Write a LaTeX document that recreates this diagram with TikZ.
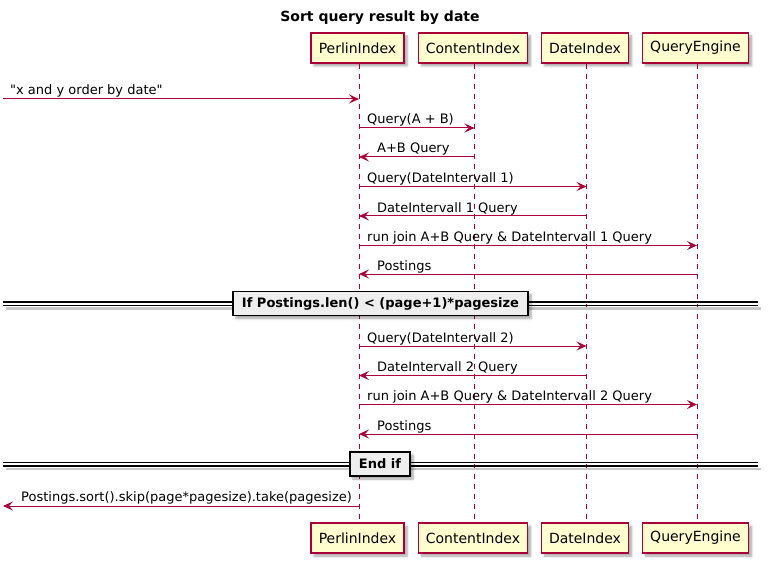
\documentclass[tikz,border=0pt]{standalone}
\usepackage{fontspec}
\setmainfont{DejaVu Sans}[Ligatures=TeXOff]
\usetikzlibrary{arrows.meta,shadows.blur}
\definecolor{puRed}{HTML}{A80036}
\definecolor{puFill}{HTML}{FEFECE}
\definecolor{puDiv}{HTML}{EEEEEE}
\tikzset{
  part/.style={draw=puRed, line width=1.3pt, fill=puFill, minimum height=30pt, inner xsep=7pt, inner ysep=0pt,
    font=\fontsize{14}{16}\selectfont, text=black,
    blur shadow={shadow xshift=3pt, shadow yshift=-3pt, shadow blur steps=6, shadow opacity=35}},
  life/.style={puRed, line width=0.9pt, dash pattern=on 5pt off 5pt},
  msg/.style={puRed, line width=1pt, -{Stealth[length=10pt, width=9pt, inset=4pt]}},
  lbl/.style={anchor=base west, inner sep=0pt, text=black, font=\fontsize{13}{15}\selectfont},
  divline/.style={black, line width=1.2pt},
  divshadow/.style={black!22, line width=2.5pt},
  divbox/.style={draw=black, line width=1.8pt, fill=puDiv, inner xsep=9pt, inner ysep=0pt, minimum height=24pt,
    font=\bfseries\fontsize{13}{15}\selectfont,
    blur shadow={shadow xshift=3pt, shadow yshift=-3pt, shadow blur steps=6, shadow opacity=35}},
}
\begin{document}
\begin{tikzpicture}[x=1pt,y=-1pt]
\useasboundingbox (0,0) rectangle (768,564);
\node[font=\bfseries\fontsize{14}{16}\selectfont] (title) at (380,18) {Sort query result by date};
% participants top
\node[part, minimum width=93pt] (pT) at (357.5,48) {PerlinIndex};
\node[part, minimum width=109pt] (cT) at (473,48) {ContentIndex};
\node[part, minimum width=87pt] (dT) at (585,48) {DateIndex};
\node[part, minimum width=106pt] (qT) at (695.5,48) {QueryEngine};
% participants bottom
\node[part, minimum width=93pt] (pB) at (357.5,538) {PerlinIndex};
\node[part, minimum width=109pt] (cB) at (473,538) {ContentIndex};
\node[part, minimum width=87pt] (dB) at (585,538) {DateIndex};
\node[part, minimum width=106pt] (qB) at (695.5,538) {QueryEngine};
% lifelines
\draw[life] ([xshift=1.5pt]pT.south) -- ([xshift=1.5pt]pB.north);
\draw[life] ([xshift=1.5pt]cT.south) -- ([xshift=1.5pt]cB.north);
\draw[life] ([xshift=1.5pt]dT.south) -- ([xshift=1.5pt]dB.north);
\draw[life] ([xshift=1.5pt]qT.south) -- ([xshift=1.5pt]qB.north);
% coordinates of lifeline x
\coordinate (P) at (359,0);
\coordinate (C) at (474.5,0);
\coordinate (D) at (586.5,0);
\coordinate (Q) at (697,0);
\coordinate (inL) at (3,99);
\coordinate (outL) at (3,506);
% messages
\draw[msg] (inL) -- (P |- inL);
\node[lbl] (t1) at (10,95) {"x and y order by date"};
\draw[msg] (P |- 0,128) -- (C |- 0,128);
\node[lbl] (t2) at (367,124) {Query(A + B)};
\draw[msg] (C |- 0,157) -- (P |- 0,157);
\node[lbl] (t3) at (377,153) {A+B Query};
\draw[msg] (P |- 0,186.5) -- (D |- 0,186.5);
\node[lbl] (t4) at (367,182.5) {Query(DateIntervall 1)};
\draw[msg] (D |- 0,216) -- (P |- 0,216);
\node[lbl] (t5) at (377,212) {DateIntervall 1 Query};
\draw[msg] (P |- 0,245.5) -- (Q |- 0,245.5);
\node[lbl] (t6) at (367,241.5) {run join A+B Query \& DateIntervall 1 Query};
\draw[msg] (Q |- 0,274) -- (P |- 0,274);
\node[lbl] (t7) at (377,270) {Postings};
% divider 1
\draw[divshadow] (6,308.5) -- (761,308.5);
\draw[divline] (3,302) -- (758,302);
\draw[divline] (3,305.5) -- (758,305.5);
\node[divbox] (div1) at (380.5,303.5) {If Postings.len() < (page+1)*pagesize};
% second block
\draw[msg] (P |- 0,346) -- (D |- 0,346);
\node[lbl] (t8) at (367,342) {Query(DateIntervall 2)};
\draw[msg] (D |- 0,375.5) -- (P |- 0,375.5);
\node[lbl] (t9) at (377,371.5) {DateIntervall 2 Query};
\draw[msg] (P |- 0,404.5) -- (Q |- 0,404.5);
\node[lbl] (t10) at (367,400.5) {run join A+B Query \& DateIntervall 2 Query};
\draw[msg] (Q |- 0,434) -- (P |- 0,434);
\node[lbl] (t11) at (377,430) {Postings};
% divider 2
\draw[divshadow] (6,469) -- (761,469);
\draw[divline] (3,462.5) -- (758,462.5);
\draw[divline] (3,466) -- (758,466);
\node[divbox] (div2) at (380,464) {End if};
% final
\draw[msg] (P |- outL) -- (outL);
\node[lbl] (t12) at (21,501.5) {Postings.sort().skip(page*pagesize).take(pagesize)};
\end{tikzpicture}
\end{document}
